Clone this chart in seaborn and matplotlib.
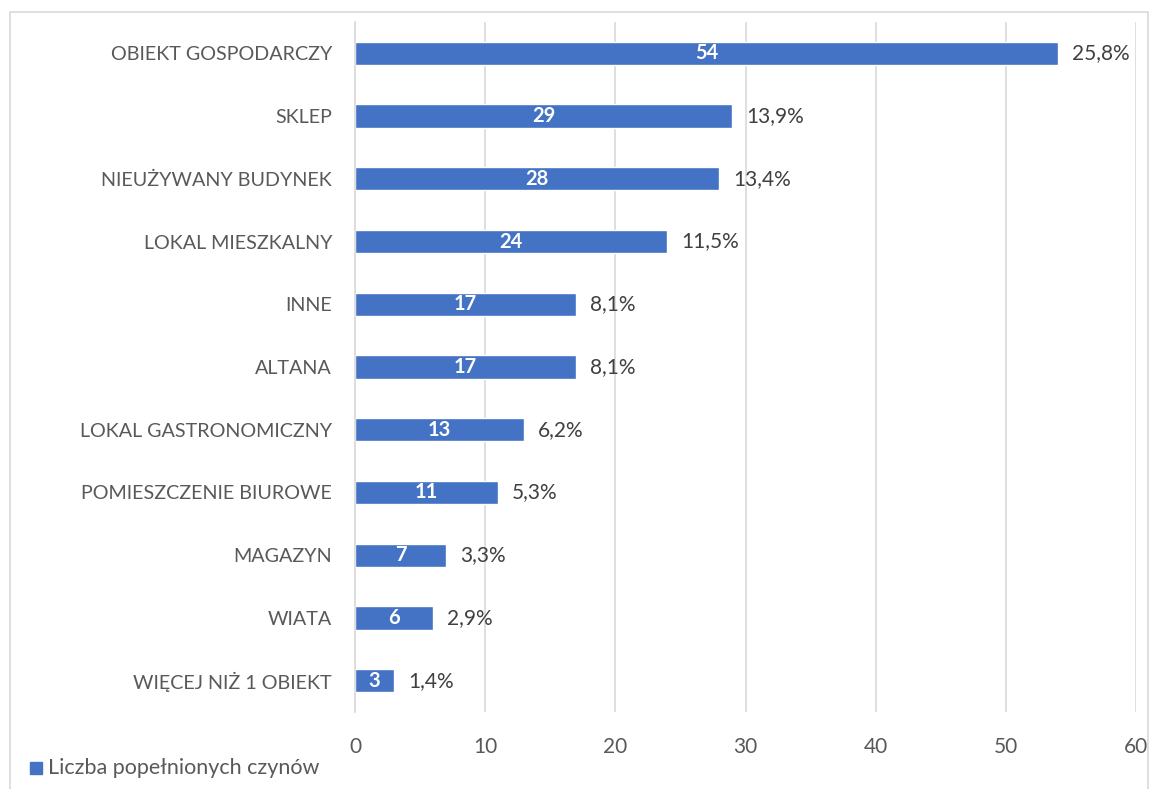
import numpy as np
import pandas as pd
import seaborn as sns
from matplotlib import pyplot as plt
from matplotlib.patches import Rectangle

categories = ['OBIEKT GOSPODARCZY', 'SKLEP', 'NIEUŻYWANY BUDYNEK', 'LOKAL MIESZKALNY',
              'INNE', 'ALTANA', 'LOKAL GASTRONOMICZNY', 'POMIESZCZENIE BIUROWE',
              'MAGAZYN', 'WIATA', 'WIĘCEJ NIŻ 1 OBIEKT']
counts = [54, 29, 28, 24, 17, 17, 13, 11, 7, 6, 3]
percents = ['25,8%', '13,9%', '13,4%', '11,5%', '8,1%', '8,1%', '6,2%', '5,3%', '3,3%', '2,9%', '1,4%']
series_name = 'Liczba popełnionych czynów'

bar_color = '#4472C4'
text_color = '#595959'

df = pd.DataFrame({'kategoria': categories, 'liczba': counts})

sns.set_theme(style='white')
plt.rcParams['font.family'] = ['Lato', 'DejaVu Sans']

fig = plt.figure(figsize=(11.58, 7.89), dpi=100)
ax = fig.add_axes([355 / 1158, 1 - 712 / 789, (1136 - 355) / 1158, (712 - 22) / 789])

sns.barplot(data=df, x='liczba', y='kategoria', color=bar_color, width=0.37,
            saturation=1, ax=ax, zorder=3)

ax.set_xlim(0, 60)
ax.set_ylim(10.5, -0.5)
ax.set_xticks(range(0, 61, 10))
ax.grid(axis='x', color='#D9D9D9', linewidth=1.2, zorder=0)
ax.set_axisbelow(True)
for s in ['top', 'right', 'bottom']:
    ax.spines[s].set_visible(False)
ax.spines['left'].set_color('#D9D9D9')
ax.spines['left'].set_linewidth(1.2)
ax.spines['left'].set_zorder(4)
ax.set_xlabel('')
ax.set_ylabel('')
ax.tick_params(axis='y', length=0, labelsize=14.2, colors=text_color, pad=16.5)
ax.tick_params(axis='x', length=0, labelsize=15, colors=text_color, pad=18)

for i, (v, p) in enumerate(zip(counts, percents)):
    ax.text(v / 2, i, str(v), ha='center', va='center', color='white',
            fontsize=14.5, fontweight='bold', zorder=5)
    ax.annotate(p, (v, i), xytext=(10, 0), textcoords='offset points',
                ha='left', va='center', color='#404040', fontsize=15)

# legend
fig.patches.append(Rectangle((30 / 1158, 1 - 774 / 789), 12 / 1158, 12 / 789,
                             transform=fig.transFigure, color=bar_color))
fig.text(48 / 1158, 1 - 768 / 789, series_name, ha='left', va='center',
         color=text_color, fontsize=15.5)

# chart border
fig.patches.append(Rectangle((10 / 1158, -0.05), (1148 - 10) / 1158, 1.05 - 12 / 789,
                             transform=fig.transFigure, fill=False,
                             edgecolor='#D9D9D9', linewidth=1.2))

fig.savefig('out.png', dpi=100)
